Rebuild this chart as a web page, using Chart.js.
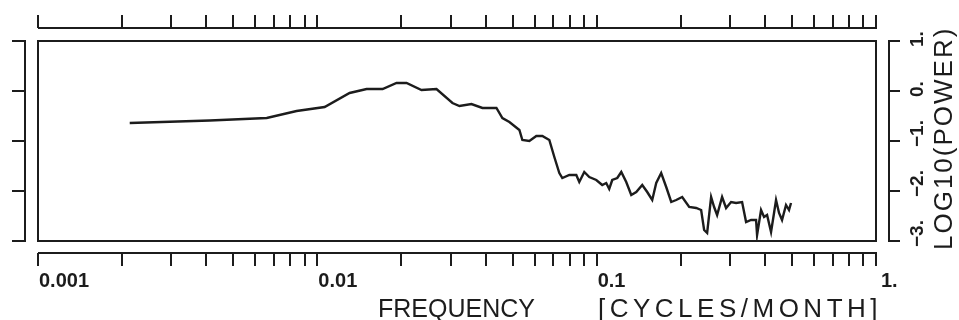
<!DOCTYPE html>
<html>
<head>
<meta charset="utf-8">
<script src="https://cdn.jsdelivr.net/npm/chart.js@4"></script>
<style>
html,body{margin:0;padding:0;background:#fff}
#wrap{position:relative;width:959px;height:320px}
</style>
</head>
<body>
<div id="wrap"><canvas id="spec"></canvas></div>
<script>
/* --- DATA: frequency (cycles/month) vs log10 spectral power --- */
const freq = [
  0.00213, 0.00412, 0.00659, 0.00843, 0.01062, 0.01305, 0.01501, 0.01713, 0.01921, 0.02086,
  0.02360, 0.02670, 0.03046, 0.03227, 0.03562, 0.03900, 0.04377, 0.04598, 0.04870, 0.05289,
  0.05420, 0.05741, 0.06081, 0.06390, 0.06769, 0.07054, 0.07351, 0.07534, 0.07981, 0.08454,
  0.08665, 0.09030, 0.09410, 0.09968, 0.1047, 0.1082, 0.1109, 0.1137, 0.1185, 0.1225,
  0.1276, 0.1330, 0.1386, 0.1456, 0.1517, 0.1581, 0.1634, 0.1702, 0.1774, 0.1849,
  0.1926, 0.2024, 0.2144, 0.2271, 0.2366, 0.2425, 0.2486, 0.2569, 0.2633, 0.2699,
  0.2812, 0.2906, 0.3028, 0.3156, 0.3316, 0.3427, 0.3571, 0.3721, 0.3752, 0.3877,
  0.3974, 0.4074, 0.4210, 0.4315, 0.4387, 0.4497, 0.4609, 0.4763, 0.4882, 0.4963
];
const logPower = [
  -0.64, -0.59, -0.54, -0.40, -0.32, -0.04, 0.04, 0.04, 0.16, 0.16,
   0.02, 0.04, -0.24, -0.30, -0.26, -0.34, -0.34, -0.54, -0.62, -0.78,
  -0.98, -1.00, -0.90, -0.90, -0.98, -1.32, -1.64, -1.74, -1.68, -1.68,
  -1.82, -1.62, -1.72, -1.78, -1.88, -1.84, -1.96, -1.78, -1.74, -1.62,
  -1.82, -2.08, -2.02, -1.88, -2.02, -2.18, -1.84, -1.64, -1.92, -2.22,
  -2.18, -2.12, -2.32, -2.34, -2.38, -2.78, -2.84, -2.12, -2.32, -2.48,
  -2.12, -2.34, -2.22, -2.24, -2.22, -2.62, -2.58, -2.58, -2.88, -2.38,
  -2.52, -2.48, -2.82, -2.44, -2.18, -2.44, -2.58, -2.28, -2.38, -2.24
];

/* --- AXIS TICKS --- */
const xTicks = [
  0.001, 0.002, 0.003, 0.004, 0.005, 0.006, 0.007, 0.008, 0.009,
  0.01, 0.02, 0.03, 0.04, 0.05, 0.06, 0.07, 0.08, 0.09,
  0.1, 0.2, 0.3, 0.4, 0.5, 0.6, 0.7, 0.8, 0.9, 1
];
const xLabelVals = [0.001, 0.01, 0.1, 1];
const xLabelText = ['0.001', '0.01', '0.1', '1.'];
const yTicks = [-3, -2, -1, 0, 1];
const yLabelText = ['\u22123.', '\u22122.', '\u22121.', '0.', '1.'];

const INK = '#1c1c1c';
const NUM_FONT = "bold 20px 'Liberation Sans', Arial, sans-serif";
const RNUM_FONT = "bold 19px 'Liberation Sans', Arial, sans-serif";
const TITLE_FONT = "25px 'Liberation Sans', Arial, sans-serif";
const YTITLE_FONT = "26px 'Liberation Sans', Arial, sans-serif";

/* --- FRAME + DETACHED AXES (drawn off the chart's own scales) --- */
const plotAxes = {
  id: 'plotAxes',
  afterDraw(chart){
    const {ctx, chartArea:a, scales:{x, y}} = chart;
    ctx.save();
    ctx.strokeStyle = INK; ctx.fillStyle = INK; ctx.lineWidth = 2;

    ctx.strokeRect(a.left, a.top, a.right - a.left, a.bottom - a.top);

    const xs = x.getPixelForValue(xTicks[0]), xe = x.getPixelForValue(xTicks[xTicks.length - 1]);
    const yTop = a.top - 13, yBot = a.bottom + 12;
    const xl = a.left - 13, xr = a.right + 13;
    const ys = y.getPixelForValue(yTicks[0]), ye = y.getPixelForValue(yTicks[yTicks.length - 1]);

    ctx.beginPath();
    ctx.moveTo(xs, yTop); ctx.lineTo(xe + 1, yTop);
    ctx.moveTo(xs, yBot); ctx.lineTo(xe + 1, yBot);
    xTicks.forEach(v => {
      const px = Math.round(x.getPixelForValue(v));
      ctx.moveTo(px, yTop); ctx.lineTo(px, yTop - 13);
      ctx.moveTo(px, yBot); ctx.lineTo(px, yBot + 13);
    });
    ctx.moveTo(xl, ys + 1); ctx.lineTo(xl, ye - 1);
    ctx.moveTo(xr, ys + 1); ctx.lineTo(xr, ye - 1);
    yTicks.forEach(v => {
      const py = Math.round(y.getPixelForValue(v));
      ctx.moveTo(xl + 1, py); ctx.lineTo(xl - 13, py);
      ctx.moveTo(xr - 1, py); ctx.lineTo(xr + 11, py);
    });
    ctx.stroke();

    // bottom tick labels
    ctx.font = NUM_FONT;
    ctx.textAlign = 'left'; ctx.textBaseline = 'alphabetic';
    xLabelVals.forEach((v, i) => {
      const px = x.getPixelForValue(v);
      ctx.fillText(xLabelText[i], px + (i === xLabelVals.length - 1 ? 5 : 1), yBot + 34);
    });

    // right tick labels, rotated
    ctx.font = RNUM_FONT;
    yTicks.forEach((v, i) => {
      const py = y.getPixelForValue(v);
      ctx.save();
      ctx.translate(xr + 29, py + 6);
      ctx.rotate(-Math.PI / 2);
      ctx.textBaseline = 'middle';
      ctx.fillText(yLabelText[i], 0, 0);
      ctx.restore();
    });

    // axis titles
    ctx.font = TITLE_FONT;
    ctx.letterSpacing = '0px';
    ctx.fillText('FREQUENCY', 378, 317);
    ctx.font = YTITLE_FONT;
    ctx.letterSpacing = '4.5px';
    ctx.fillText('[CYCLES/MONTH]', 598, 317);
    ctx.save();
    ctx.translate(xr + 56, 250);
    ctx.rotate(-Math.PI / 2);
    ctx.letterSpacing = '2px';
    ctx.textBaseline = 'middle';
    ctx.fillText('LOG10(POWER)', 0, 0);
    ctx.restore();

    ctx.restore();
  }
};

new Chart(document.getElementById('spec'), {
  type: 'line',
  data: {
    datasets: [{
      data: freq.map((f, i) => ({x: f, y: logPower[i]})),
      borderColor: INK,
      borderWidth: 2.4,
      pointRadius: 0,
      tension: 0,
      fill: false
    }]
  },
  options: {
    responsive: true,
    maintainAspectRatio: false,
    animation: false,
    layout: {padding: {left: 38, right: 83, top: 41, bottom: 79}},
    plugins: {legend: {display: false}, tooltip: {enabled: false}},
    scales: {
      x: {type: 'logarithmic', min: 0.001, max: 1, display: false},
      y: {type: 'linear', min: -3, max: 1, display: false}
    }
  },
  plugins: [plotAxes]
});
</script>
</body>
</html>
